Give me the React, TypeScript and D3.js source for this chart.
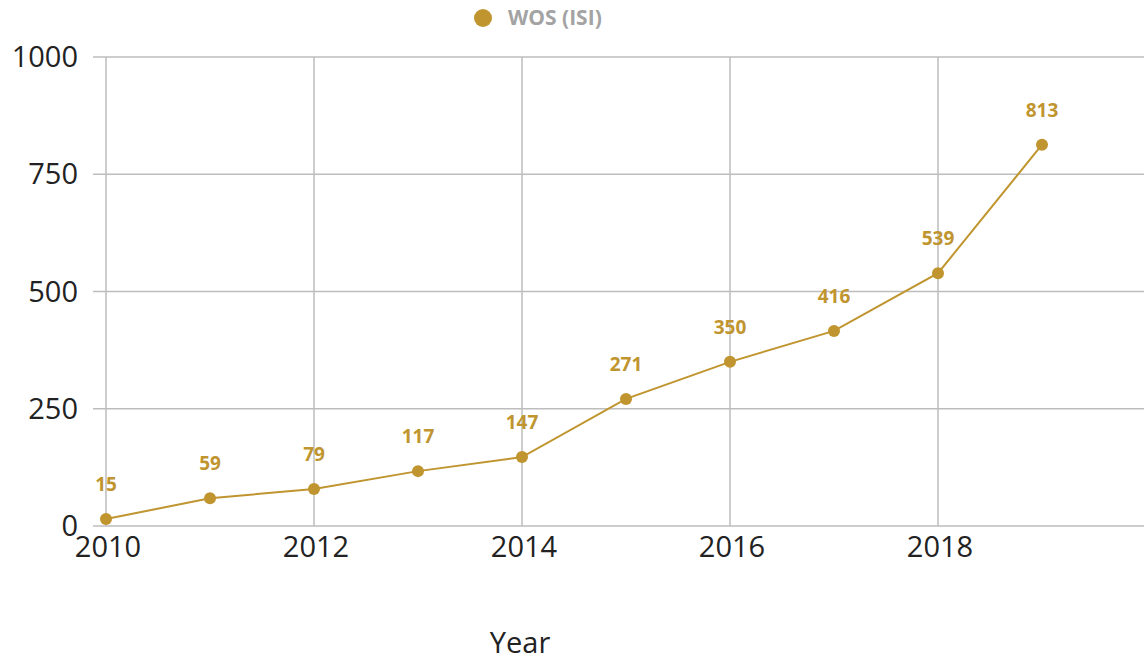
import { useEffect, useRef } from 'react';
import * as d3 from 'd3';

const years = [2010, 2011, 2012, 2013, 2014, 2015, 2016, 2017, 2018, 2019];
const wosValues = [15, 59, 79, 117, 147, 271, 350, 416, 539, 813];
const xTicks = [2010, 2012, 2014, 2016, 2018];
const yTicks = [0, 250, 500, 750, 1000];
const seriesName = 'WOS (ISI)';
const axisTitle = 'Year';

const W = 1144;
const H = 662;
const GOLD = '#c0952f';
const GRID = '#bdbdbd';
const FONT = '"Open Sans", "Noto Sans", sans-serif';

export default function App() {
  const svgRef = useRef<SVGSVGElement>(null);

  useEffect(() => {
    if (!svgRef.current) return;
    const svg = d3.select(svgRef.current);
    svg.selectAll('*').remove();

    const x = d3.scaleLinear().domain([2010, 2020]).range([106, 1146]);
    const y = d3.scaleLinear().domain([0, 1000]).range([526, 57]);

    // horizontal grid
    svg.append('g')
      .selectAll('line')
      .data(yTicks)
      .enter().append('line')
      .attr('x1', 93)
      .attr('x2', W)
      .attr('y1', d => y(d))
      .attr('y2', d => y(d))
      .attr('stroke', GRID)
      .attr('stroke-width', 1.5);

    // vertical grid
    svg.append('g')
      .selectAll('line')
      .data(xTicks)
      .enter().append('line')
      .attr('x1', d => x(d))
      .attr('x2', d => x(d))
      .attr('y1', y(1000))
      .attr('y2', y(0))
      .attr('stroke', GRID)
      .attr('stroke-width', 1.5);

    // y tick labels
    svg.append('g')
      .selectAll('text')
      .data(yTicks)
      .enter().append('text')
      .attr('x', 78)
      .attr('y', d => y(d))
      .attr('dy', '0.35em')
      .attr('text-anchor', 'end')
      .style('font-family', FONT)
      .style('font-size', '29px')
      .attr('fill', '#222')
      .text(d => d);

    // x tick labels
    svg.append('g')
      .selectAll('text')
      .data(xTicks)
      .enter().append('text')
      .attr('x', d => x(d) + 2)
      .attr('y', 557)
      .attr('text-anchor', 'middle')
      .style('font-family', FONT)
      .style('font-size', '29px')
      .attr('fill', '#222')
      .text(d => d);

    // axis title
    svg.append('text')
      .attr('x', 520)
      .attr('y', 653)
      .attr('text-anchor', 'middle')
      .style('font-family', FONT)
      .style('font-size', '29px')
      .attr('fill', '#222')
      .text(axisTitle);

    const pts = years.map((yr, i) => ({ yr, v: wosValues[i] }));

    const line = d3.line<{ yr: number; v: number }>()
      .x(d => x(d.yr))
      .y(d => y(d.v));

    svg.append('path')
      .datum(pts)
      .attr('fill', 'none')
      .attr('stroke', GOLD)
      .attr('stroke-width', 2)
      .attr('d', line);

    svg.append('g')
      .selectAll('circle')
      .data(pts)
      .enter().append('circle')
      .attr('cx', d => x(d.yr))
      .attr('cy', d => y(d.v))
      .attr('r', 6)
      .attr('fill', GOLD);

    svg.append('g')
      .selectAll('text')
      .data(pts)
      .enter().append('text')
      .attr('x', d => x(d.yr))
      .attr('y', d => y(d.v) - 28)
      .attr('text-anchor', 'middle')
      .style('font-family', FONT)
      .style('font-size', '19px')
      .style('font-weight', 'bold')
      .attr('fill', GOLD)
      .text(d => d.v);

    // legend
    const legend = svg.append('g').attr('transform', 'translate(483,18)');
    legend.append('circle').attr('r', 9).attr('fill', GOLD);
    legend.append('text')
      .attr('x', 25)
      .attr('dy', '0.35em')
      .style('font-family', FONT)
      .style('font-size', '21px')
      .style('font-weight', 'bold')
      .attr('fill', '#a3a3a3')
      .text(seriesName);
  }, []);

  return (
    <svg
      ref={svgRef}
      width={W}
      height={H}
      style={{ position: 'absolute', left: 0, top: 0, background: '#fff' }}
    />
  );
}
